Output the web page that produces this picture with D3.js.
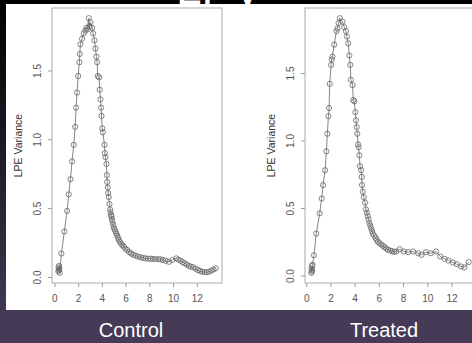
<!DOCTYPE html>
<html>
<head>
<meta charset="utf-8">
<script src="https://cdn.jsdelivr.net/npm/d3@7"></script>
<style>
  html, body { margin: 0; padding: 0; background: #000; }
  svg { display: block; }
</style>
</head>
<body>
<div id="chart"></div>
<script>
// values
var titleText = "LPV";
var panelNames = ["Control", "Treated"];
var yLabel = "LPE Variance";
var xTicks = [0, 2, 4, 6, 8, 10, 12];
var yTicks = [0, 0.5, 1, 1.5];

var controlX = [0.33, 0.35, 0.38, 0.40, 0.42, 0.45, 0.59, 0.84, 1.07, 1.21, 1.35, 1.49, 1.63, 1.75, 1.83, 1.91, 2.0, 2.11, 2.14, 2.19, 2.33, 2.47, 2.62, 2.7, 2.81, 2.9, 2.95,
    3.04, 3.18, 3.26, 3.38, 3.46, 3.54, 3.6, 3.65, 3.77, 3.82, 3.88, 3.94, 3.97, 4.03, 4.08, 4.22, 4.25, 4.30, 4.39, 4.42, 4.45, 4.5, 4.53, 4.58, 4.64, 4.7, 4.73, 4.78, 4.81, 4.85, 4.89, 4.95,
    5.0, 5.07, 5.15, 5.22, 5.29, 5.36, 5.43, 5.52, 5.63, 5.74, 5.85, 5.98, 6.13, 6.3, 6.47, 6.65, 6.84, 7.05, 7.26, 7.47, 7.68, 7.9, 8.1, 8.3, 8.52, 8.75, 8.95, 9.15, 9.37, 9.65, 9.93,
    10.27, 10.45, 10.63, 10.8, 10.97, 11.15, 11.33, 11.5, 11.7, 11.9, 12.1, 12.28, 12.46, 12.65, 12.83, 13.02, 13.22, 13.4, 13.59];
var controlY = [0.04, 0.07, 0.05, 0.08, 0.06, 0.03, 0.17, 0.33, 0.48, 0.60, 0.71, 0.84, 0.96, 1.09, 1.23, 1.34, 1.46, 1.56, 1.62, 1.69, 1.73, 1.77, 1.79, 1.81, 1.80, 1.88, 1.82,
    1.85, 1.81, 1.77, 1.72, 1.66, 1.60, 1.56, 1.46, 1.45, 1.36, 1.29, 1.23, 1.17, 1.08, 1.05, 0.96, 0.90, 0.87, 0.82, 0.74, 0.69, 0.65, 0.61, 0.58, 0.53, 0.49, 0.47, 0.45, 0.44, 0.42, 0.40, 0.38,
    0.36, 0.345, 0.33, 0.315, 0.30, 0.285, 0.27, 0.255, 0.24, 0.23, 0.22, 0.205, 0.196, 0.18, 0.17, 0.16, 0.155, 0.148, 0.143, 0.138, 0.135, 0.133, 0.133, 0.131, 0.13, 0.129, 0.128, 0.122, 0.118, 0.11, 0.123,
    0.135, 0.125, 0.118, 0.108, 0.099, 0.09, 0.08, 0.075, 0.07, 0.06, 0.05, 0.043, 0.038, 0.035, 0.034, 0.038, 0.046, 0.055, 0.063];

var treatedX = [0.42, 0.44, 0.46, 0.48, 0.50, 0.52, 0.64, 0.83, 1.11, 1.28, 1.39, 1.56, 1.67, 1.75, 1.83, 1.89, 1.94, 2.06, 2.11, 2.17, 2.31, 2.5, 2.58, 2.67, 2.78,
    3.0, 3.14, 3.28, 3.36, 3.47, 3.56, 3.64, 3.69, 3.83, 3.89, 3.97, 4.06, 4.11, 4.17, 4.22, 4.28, 4.33, 4.39, 4.44, 4.53, 4.58, 4.61, 4.67, 4.75, 4.86, 4.94,
    5.01, 5.08, 5.15, 5.22, 5.29, 5.36, 5.43, 5.5, 5.61, 5.72, 5.82, 5.92, 6.05, 6.19, 6.33, 6.47, 6.61, 6.75, 6.93, 7.11, 7.27, 7.44, 7.72, 8.06, 8.42, 8.83, 9.25, 9.53, 9.89,
    10.28, 10.72, 11.06, 11.42, 11.75, 12.11, 12.44, 12.78, 13.06, 13.42];
var treatedY = [0.02, 0.05, 0.03, 0.07, 0.04, 0.08, 0.15, 0.31, 0.46, 0.57, 0.67, 0.78, 0.92, 1.05, 1.18, 1.24, 1.42, 1.56, 1.60, 1.62, 1.71, 1.81, 1.83, 1.87, 1.906,
    1.88, 1.84, 1.81, 1.77, 1.72, 1.63, 1.56, 1.45, 1.41, 1.30, 1.29, 1.21, 1.15, 1.10, 1.05, 0.97, 0.95, 0.89, 0.81, 0.78, 0.73, 0.67, 0.62, 0.58, 0.54, 0.49,
    0.465, 0.44, 0.415, 0.39, 0.37, 0.35, 0.33, 0.31, 0.295, 0.28, 0.265, 0.25, 0.24, 0.23, 0.22, 0.21, 0.20, 0.19, 0.185, 0.18, 0.175, 0.178, 0.195, 0.178, 0.173, 0.178, 0.165, 0.153, 0.173,
    0.165, 0.178, 0.141, 0.124, 0.111, 0.096, 0.084, 0.067, 0.06, 0.099];

var W = 472, H = 343;
var font = "Liberation Sans, Arial, sans-serif";

var svg = d3.select("#chart").append("svg")
    .attr("width", W)
    .attr("height", H);

var grad = svg.append("defs").append("linearGradient")
    .attr("id", "bg")
    .attr("x1", 0).attr("y1", 0).attr("x2", 0).attr("y2", 1);
grad.append("stop").attr("offset", "0%").attr("stop-color", "#000");
grad.append("stop").attr("offset", "60%").attr("stop-color", "#2a2434");
grad.append("stop").attr("offset", "100%").attr("stop-color", "#483d5c");

svg.append("rect")
    .attr("width", W).attr("height", H)
    .attr("fill", "url(#bg)");

// bottom band
svg.append("rect")
    .attr("x", 0).attr("y", 310)
    .attr("width", W).attr("height", H - 310)
    .attr("fill", "#463b57");

// slide title, mostly hidden behind the white panel (as in the reference)
svg.append("text")
    .attr("x", 176).attr("y", 4)
    .attr("fill", "#fff")
    .style("font-family", font)
    .style("font-size", "46px")
    .text(titleText);

svg.append("rect")
    .attr("x", 6).attr("y", 4)
    .attr("width", W - 6).attr("height", 306)
    .attr("fill", "#fff");

// R style range: extent padded by 4%
function rRange(v) {
    var e = d3.extent(v), pad = (e[1] - e[0]) * 0.04;
    return [e[0] - pad, e[1] + pad];
}

function drawPanel(xs, ys, left, name) {
    var top = 8, bottom = 283, right = left + 170;

    var x = d3.scaleLinear().domain(rRange(xs)).range([left, right]);
    var y = d3.scaleLinear().domain(rRange(ys)).range([bottom, top]);

    var g = svg.append("g");

    var xAxis = d3.axisBottom(x).tickValues(xTicks).tickSize(4).tickPadding(8);
    var yAxis = d3.axisLeft(y).tickValues(yTicks).tickSize(4).tickFormat(d3.format(".1f"));

    var gx = g.append("g")
        .attr("transform", "translate(0," + bottom + ")")
        .call(xAxis);
    var gy = g.append("g")
        .attr("transform", "translate(" + left + ",0)")
        .call(yAxis);

    [gx, gy].forEach(function(a) {
        a.select(".domain").remove();
        a.selectAll("line").attr("stroke", "#999");
        a.selectAll("text")
            .attr("fill", "#555")
            .style("font-family", font)
            .style("font-size", "10px");
    });

    gy.selectAll("text")
        .attr("x", null).attr("dy", null)
        .attr("text-anchor", "middle")
        .attr("transform", "translate(-11,0) rotate(-90)");

    g.append("rect")
        .attr("x", left).attr("y", top)
        .attr("width", right - left).attr("height", bottom - top)
        .attr("fill", "none")
        .attr("stroke", "#aaa")
        .attr("stroke-width", 1);

    g.append("text")
        .attr("transform", "translate(" + (left - 30) + "," + ((top + bottom) / 2) + ") rotate(-90)")
        .attr("text-anchor", "middle")
        .attr("fill", "#333")
        .style("font-family", font)
        .style("font-size", "10.5px")
        .text(yLabel);

    var pts = xs.map(function(d, i) { return [d, ys[i]]; });

    var line = d3.line()
        .x(function(d) { return x(d[0]); })
        .y(function(d) { return y(d[1]); });

    g.append("path")
        .datum(pts)
        .attr("d", line)
        .attr("fill", "none")
        .attr("stroke", "#777")
        .attr("stroke-width", 0.9);

    g.selectAll("circle")
        .data(pts)
        .enter().append("circle")
        .attr("cx", function(d) { return x(d[0]); })
        .attr("cy", function(d) { return y(d[1]); })
        .attr("r", 2.6)
        .attr("fill", "none")
        .attr("stroke", "#666")
        .attr("stroke-width", 0.8);

    svg.append("text")
        .attr("x", (left + right) / 2 - 6)
        .attr("y", 337)
        .attr("text-anchor", "middle")
        .attr("fill", "#fff")
        .style("font-family", font)
        .style("font-size", "20px")
        .text(name);
}

drawPanel(controlX, controlY, 52, panelNames[0]);
drawPanel(treatedX, treatedY, 305, panelNames[1]);
</script>
</body>
</html>
